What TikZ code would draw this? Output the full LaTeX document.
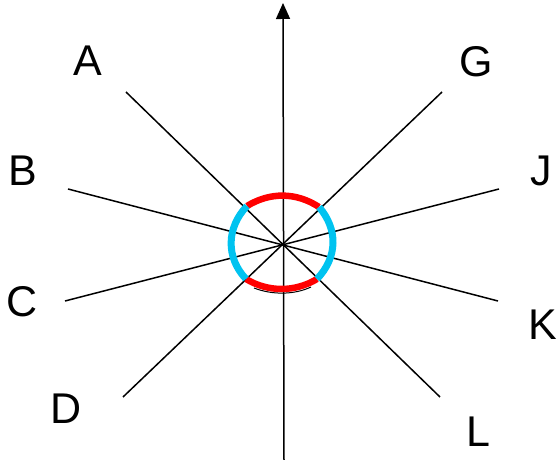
\documentclass[tikz,border=0pt]{standalone}
\usepackage{fontspec}
\setmainfont{Liberation Sans}
\usetikzlibrary{arrows.meta}
\definecolor{arccyan}{RGB}{0,195,240}
\begin{document}
\begin{tikzpicture}[x=1pt,y=-1pt,
  ray/.style={line width=1.5pt,black},
  lab/.style={font=\fontsize{43}{48}\selectfont,inner sep=0pt},
  redarc/.style={line width=6.5pt,red},
  cyanarc/.style={line width=7pt,arccyan}]
\useasboundingbox (0,0) rectangle (558,462);
% ray ends
\coordinate (a1) at (126,92);   \coordinate (l1) at (440,397);
\coordinate (b1) at (68,189);   \coordinate (k1) at (498,301);
\coordinate (c1) at (65,301);   \coordinate (j1) at (499,189);
\coordinate (d1) at (123,397);  \coordinate (g1) at (442,92);
\coordinate (bot) at (284,460); \coordinate (top) at (283,3);
\draw[ray] (a1) -- (l1);
\draw[ray] (b1) -- (k1);
\draw[ray] (c1) -- (j1);
\draw[ray] (d1) -- (g1);
\draw[ray,-{Triangle[length=16pt,width=14pt]}] (bot) -- (top);
% labels
\node[lab] (A) at (87.5,61) {A};
\node[lab] (B) at (22.5,171) {B};
\node[lab] (C) at (22,302) {C};
\node[lab] (D) at (66.5,409) {D};
\node[lab] (G) at (476.5,62) {G};
\node[lab] (J) at (541,171) {J};
\node[lab] (K) at (543,325) {K};
\node[lab] (L) at (478,432) {L};
% corners of the closed curve
\coordinate (ul) at (247,206);
\coordinate (ur) at (319,207);
\coordinate (lr) at (317,279);
\coordinate (ll) at (246,279);
% thin black arc under bottom
\draw[line width=1pt] (254,288) .. controls (272,295) and (294,295) .. (311,287);
\draw[redarc] (ul) .. controls (270,192) and (296,192) .. (ur);
\draw[redarc] (ll) .. controls (268,292.3) and (295,292.3) .. (lr);
\draw[cyanarc] (ul) .. controls (226,228) and (226,258) .. (ll);
\draw[cyanarc] (ur) .. controls (338,229) and (338,257) .. (lr);
\end{tikzpicture}
\end{document}
